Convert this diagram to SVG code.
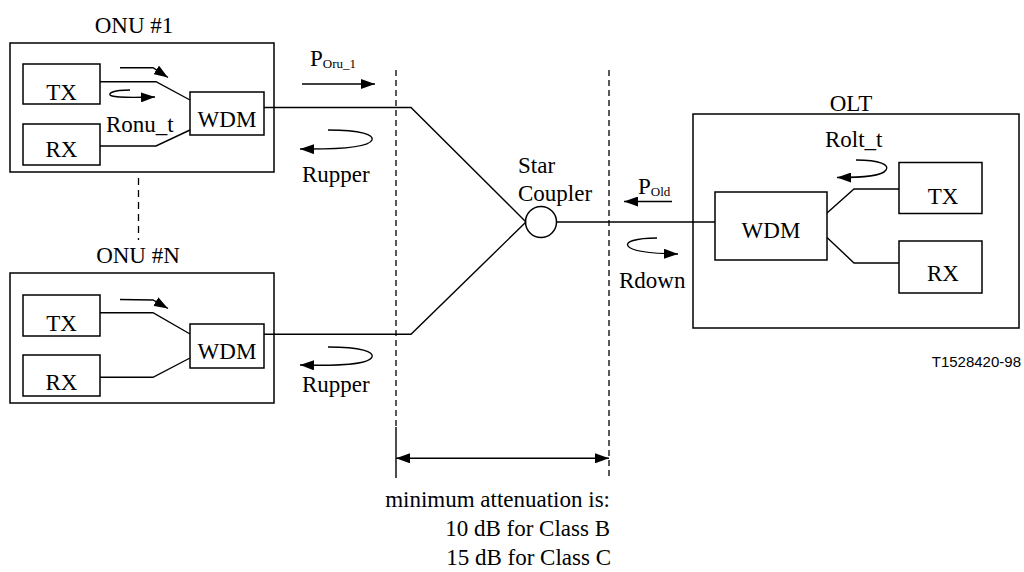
<svg xmlns="http://www.w3.org/2000/svg" width="1024" height="572" viewBox="0 0 1024 572">
<style>
.box{fill:none;stroke:#000;stroke-width:1.5}
.ln{fill:none;stroke:#000;stroke-width:1.4}
.dash{fill:none;stroke:#000;stroke-width:1.3;stroke-dasharray:6 4}
.t{font-family:"Liberation Serif","Times New Roman",serif;font-size:23px;fill:#000}
.sub{font-size:13px}
.mid{text-anchor:middle}
.end{text-anchor:end}
.id{font-family:"Liberation Sans",Arial,sans-serif;font-size:15px;fill:#000;text-anchor:end}
</style>
<defs>
<marker id="ah" viewBox="0 0 14 10" refX="14" refY="5" markerWidth="14" markerHeight="10" markerUnits="userSpaceOnUse" orient="auto-start-reverse">
<path d="M0,0 L14,5 L0,10 z" fill="#000"/>
</marker>
</defs>
<rect width="1024" height="572" fill="#fff"/>

<g id="onu1">
<text class="t mid" x="134" y="33">ONU #1</text>
<rect class="box" x="10" y="43" width="264" height="129"/>
<rect class="box" x="23" y="64" width="77" height="40"/>
<text class="t mid" x="61.5" y="100">TX</text>
<rect class="box" x="23" y="124" width="77" height="41"/>
<text class="t mid" x="61.5" y="157">RX</text>
<rect class="box" x="190" y="92" width="74" height="43"/>
<text class="t mid" x="227" y="127">WDM</text>
<text class="t" x="106" y="132">Ronu_t</text>
</g>

<g id="onuN">
<text class="t mid" x="138" y="263">ONU #N</text>
<rect class="box" x="10" y="273" width="264" height="130"/>
<rect class="box" x="23" y="295" width="77" height="41"/>
<text class="t mid" x="61.5" y="331">TX</text>
<rect class="box" x="23" y="355" width="77" height="41"/>
<text class="t mid" x="61.5" y="390">RX</text>
<rect class="box" x="190" y="324" width="74" height="44"/>
<text class="t mid" x="227" y="359">WDM</text>
</g>

<g id="star">
<circle class="box" cx="541" cy="222" r="15.5"/>
<text class="t" x="518" y="173">Star</text>
<text class="t" x="518" y="201">Coupler</text>
</g>

<g id="olt">
<text class="t mid" x="851" y="111">OLT</text>
<rect class="box" x="693" y="114" width="326" height="214"/>
<rect class="box" x="715" y="192" width="112" height="68"/>
<text class="t mid" x="771" y="238">WDM</text>
<rect class="box" x="899" y="162.5" width="83" height="51"/>
<text class="t mid" x="943" y="204">TX</text>
<rect class="box" x="899" y="241" width="83" height="52"/>
<text class="t mid" x="943" y="281">RX</text>
<text class="t" x="825" y="147">Rolt_t</text>
</g>

<g id="connectors">
<polyline class="ln" points="100,81.7 156,81.7 190,100"/>
<polyline class="ln" points="100,146 156,146 190,130"/>
<polyline class="ln" points="100,312.7 153,312.7 190,334"/>
<polyline class="ln" points="100,377.3 153,377.3 190,358"/>
<polyline class="ln" points="264,107.5 411,107.5 526,222"/>
<polyline class="ln" points="264,334.3 411,334.3 526,222"/>
<line class="ln" x1="556.5" y1="222" x2="715" y2="222"/>
<polyline class="ln" points="827,213 854,189 899,189"/>
<polyline class="ln" points="827,237.5 854,263 899,263"/>
<line class="dash" x1="396" y1="70" x2="396" y2="430"/>
<line class="ln" x1="396" y1="427" x2="396" y2="478"/>
<line class="dash" x1="609" y1="70" x2="609" y2="477"/>
<line class="dash" x1="138.5" y1="178" x2="138.5" y2="240" style="stroke-dasharray:7 5"/>
<line class="ln" x1="396" y1="458.3" x2="609" y2="458.3" marker-start="url(#ah)" marker-end="url(#ah)"/>
<path class="ln" d="M120,67.7 L153,67.7 L168,77.5" marker-end="url(#ah)"/>
<path class="ln" d="M130,90 C112,90 106,94 112,96 C118,98 135,97.5 155,97" marker-end="url(#ah)"/>
<path class="ln" d="M120,299.5 L153,300 L168,308.5" marker-end="url(#ah)"/>
<line class="ln" x1="302" y1="84" x2="375" y2="84" marker-end="url(#ah)"/>
<path class="ln" d="M328,130 C362,130 374,135 372,140 C369,147 345,149.5 300,149" marker-end="url(#ah)"/>
<path class="ln" d="M328,347 C362,347 374,352 372,357 C369,364 345,366 300,365" marker-end="url(#ah)"/>
<line class="ln" x1="672" y1="201.5" x2="624" y2="201.5" marker-end="url(#ah)"/>
<path class="ln" d="M657,238 C635,238 625,242 628,246 C631,251 650,253.5 678,254" marker-end="url(#ah)"/>
<path class="ln" d="M856,160 C880,160 890,165 886,170 C882,176 865,177.5 837,177.5" marker-end="url(#ah)"/>
</g>

<g id="labels">
<text class="t" x="310" y="66">P<tspan class="sub" dy="2">Oru_1</tspan></text>
<text class="t" x="638" y="194">P<tspan class="sub" dy="2">Old</tspan></text>
<text class="t" x="302" y="182">Rupper</text>
<text class="t" x="302" y="392">Rupper</text>
<text class="t" x="619" y="288">Rdown</text>
<text class="t end" x="610" y="507">minimum attenuation is:</text>
<text class="t end" x="610" y="536">10 dB for Class B</text>
<text class="t end" x="611" y="565">15 dB for Class C</text>
<text class="id" x="1021" y="367">T1528420-98</text>
</g>
</svg>
